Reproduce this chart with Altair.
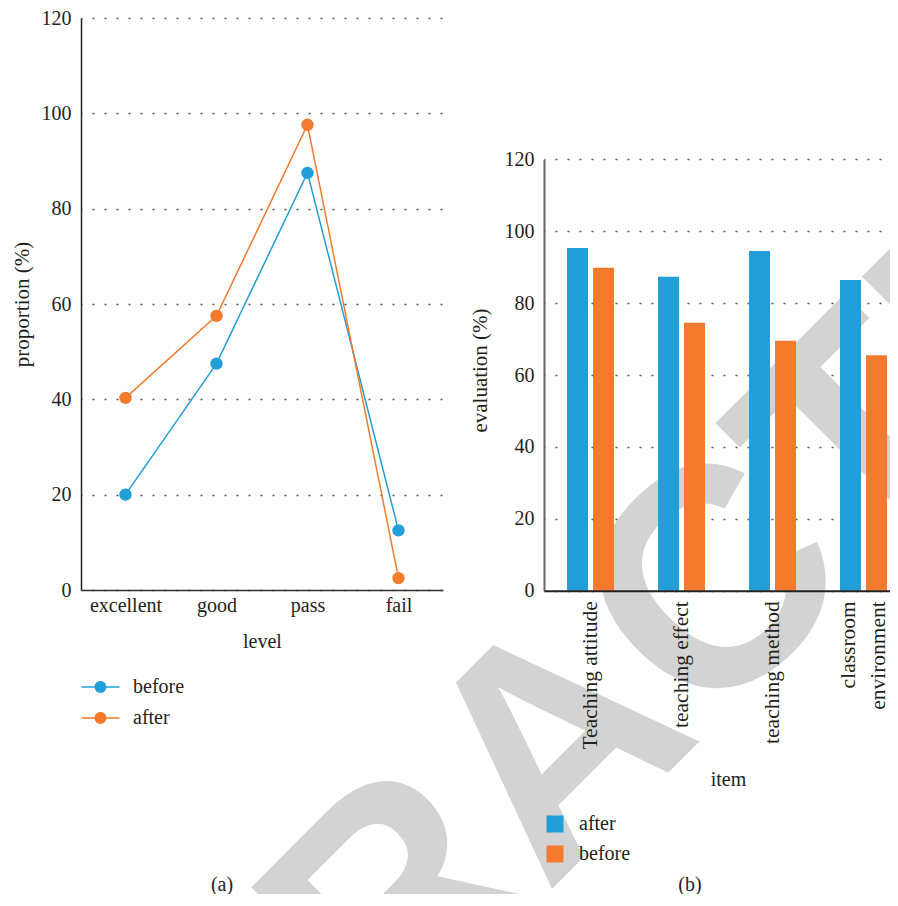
import altair as alt
import pandas as pd

# ---------------- data ----------------
levels = ["excellent", "good", "pass", "fail"]
before_prop = [20.0, 47.5, 87.5, 12.5]
after_prop = [40.3, 57.5, 97.6, 2.5]
line_series = ["before", "after"]

items = ["Teaching attitude", "teaching effect", "teaching method", "classroom environment"]
after_eval = [95.3, 87.3, 94.5, 86.4]
before_eval = [89.8, 74.5, 69.5, 65.5]
bar_series = ["after", "before"]

y_ticks = [0, 20, 40, 60, 80, 100, 120]
watermark = ["RETRACTED"]
panel_tags = ["(a)", "(b)"]

# ---------------- style ----------------
BLUE = "#229ed9"
ORANGE = "#f47b2d"
TEXT = "#231f20"
SERIF = "Liberation Serif"
FS = 20

# geometry, px relative to the plot origin of panel (a)
W, H = 809, 876
A_W, A_H = 362, 572
B_X0, B_X1 = 463, 809
B_Y0, B_Y1 = 572.7, 141.3

line_df = pd.DataFrame({
    "level": levels * 2,
    "idx": list(range(len(levels))) * 2,
    "proportion": before_prop + after_prop,
    "series": ["before"] * len(levels) + ["after"] * len(levels),
})
bar_df = pd.DataFrame({
    "item": items * 2,
    "evaluation": after_eval + before_eval,
    "series": ["after"] * len(items) + ["before"] * len(items),
})

common = dict(labelFont=SERIF, labelColor=TEXT,
              titleFont=SERIF, titleColor=TEXT,
              titleFontWeight="normal", ticks=False)
grid_on = dict(grid=True, gridDash=[2, 10], gridColor="#555555",
               gridWidth=1.6, gridDashOffset=1)

# ---------------- panel (a) ----------------
xa = alt.X("level:N", sort=levels,
           scale=alt.Scale(type="point", range=[0, A_W], padding=0.489),
           axis=alt.Axis(title="level", orient="bottom", offset=A_H - H,
                         labelAngle=0, labelPadding=5, grid=False, zindex=1,
                         labelFontSize=FS, titleFontSize=FS,
                         domainColor="#333333", domainWidth=1.5,
                         titleX=A_W / 2, titleY=51, titleBaseline="middle",
                         **common))
ya = alt.Y("proportion:Q",
           scale=alt.Scale(domain=[0, 120], range=[A_H, 0], nice=False),
           axis=alt.Axis(title="proportion (%)", orient="left", values=y_ticks,
                         labelPadding=10, domainColor="#222222", domainWidth=1.5,
                         labelFontSize=FS, titleFontSize=21, zindex=0,
                         titleX=-59, titleY=286, titleBaseline="middle",
                         titleAngle=270, **grid_on, **common))
a_scale = alt.Scale(domain=line_series, range=[BLUE, ORANGE])

legend_path = ("M-2,-0.08H2V0.08H-2Z"
               "M-0.62,0A0.62,0.62,0,1,1,0.62,0A0.62,0.62,0,1,1,-0.62,0Z")

lines = alt.Chart(line_df).mark_line(strokeWidth=1.5).encode(
    x=xa, y=ya,
    stroke=alt.Stroke("series:N", scale=a_scale, legend=None),
    order=alt.Order("idx:Q"),
)
points = alt.Chart(line_df).mark_point(filled=True, size=154, opacity=1).encode(
    x=xa, y=ya,
    color=alt.Color("series:N", scale=a_scale, legend=alt.Legend(
        title=None, orient="none", legendX=9.5, legendY=659,
        symbolType=legend_path, symbolSize=361, symbolStrokeWidth=0,
        labelFont=SERIF, labelFontSize=FS, labelColor=TEXT,
        labelOffset=22.5, rowPadding=11, padding=0, zindex=1)),
)
panel_a = alt.layer(lines, points)

# ---------------- panel (b) ----------------
xb = alt.X("item:N", sort=items,
           scale=alt.Scale(range=[B_X0, B_X1], paddingInner=0.4835,
                           paddingOuter=0.143, align=0.885),
           axis=alt.Axis(title="item", orient="bottom", offset=B_Y0 - H,
                         labelAngle=270, labelPadding=10, labelLineHeight=30,
                         labelAlign="right", labelBaseline="middle",
                         labelOverlap=False, labelLimit=400, zindex=1,
                         labelFontSize=21.5, titleFontSize=FS,
                         labelExpr="datum.value == 'classroom environment' ? ['classroom', 'environment'] : datum.label",
                         labelOffset={"condition": {"test": "datum.value == 'classroom environment'", "value": -15}, "value": 0},
                         grid=False, domainColor="#222222", domainWidth=2,
                         titleX=647, titleY=189, titleBaseline="middle",
                         **common))
yb = alt.Y("evaluation:Q",
           scale=alt.Scale(domain=[0, 120], range=[B_Y0, B_Y1], nice=False),
           axis=alt.Axis(title="evaluation (%)", orient="left", offset=-B_X0,
                         values=y_ticks, labelPadding=10, zindex=0,
                         labelFontSize=FS, titleFontSize=21,
                         domainColor="#666666", domainWidth=2,
                         titleX=-64, titleY=352, titleBaseline="middle",
                         titleAngle=270, **grid_on, **common))

panel_b = alt.Chart(bar_df).mark_bar().encode(
    x=xb, y=yb,
    xOffset=alt.XOffset("series:N", sort=bar_series,
                        scale=alt.Scale(paddingInner=0.192, paddingOuter=0)),
    color=alt.Color("series:N",
                    scale=alt.Scale(domain=bar_series, range=[BLUE, ORANGE]),
                    legend=alt.Legend(
                        title=None, orient="none", legendX=464, legendY=796,
                        symbolType="square", symbolSize=289, symbolStrokeWidth=0,
                        labelFont=SERIF, labelFontSize=FS, labelColor=TEXT,
                        labelOffset=14, rowPadding=10, padding=0, zindex=1)),
)

# ---------------- watermark & tags ----------------
wm = alt.Chart(pd.DataFrame({"t": watermark})).mark_text(
    font="Liberation Sans", fontWeight="bold", fontSize=311, color="#d3d3d3",
    angle=315, align="center", baseline="alphabetic", clip=True,
).encode(text="t:N", x=alt.value(545), y=alt.value(797))

tag_a = alt.Chart(pd.DataFrame({"t": [panel_tags[0]]})).mark_text(
    font=SERIF, fontSize=FS, color=TEXT, align="center", baseline="middle",
).encode(text="t:N", x=alt.value(141), y=alt.value(867))
tag_b = alt.Chart(pd.DataFrame({"t": [panel_tags[1]]})).mark_text(
    font=SERIF, fontSize=FS, color=TEXT, align="center", baseline="middle",
).encode(text="t:N", x=alt.value(609), y=alt.value(867))

chart = (
    alt.layer(wm, panel_a, panel_b, tag_a, tag_b)
    .resolve_scale(x="independent", y="independent", color="independent")
    .resolve_axis(x="independent", y="independent")
    .resolve_legend(color="independent")
    .properties(width=W, height=H,
                autosize=alt.AutoSizeParams(type="none"),
                padding={"left": 73, "top": 10, "right": 0, "bottom": 0})
    .configure_view(stroke=None)
)

chart.save("out.html", embed_options={"renderer": "svg", "actions": False})
